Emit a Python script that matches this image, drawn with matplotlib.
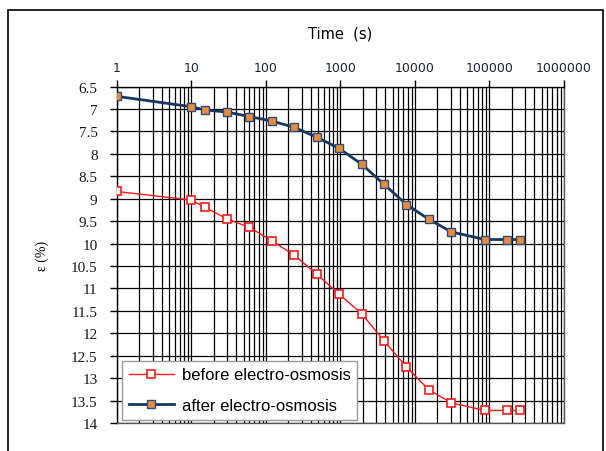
import numpy as np
from matplotlib import pyplot as plt
from matplotlib.patches import Rectangle
from matplotlib.ticker import LogLocator, NullFormatter, FixedLocator

# ---------- data ----------
times = [1, 10, 15, 30, 60, 120, 240, 480, 960, 1920, 3840, 7680,
         15360, 30720, 86400, 172800, 259200]
before = [8.84, 9.03, 9.19, 9.45, 9.64, 9.94, 10.26, 10.68, 11.13, 11.56,
          12.17, 12.75, 13.26, 13.55, 13.72, 13.72, 13.72]
after = [6.72, 6.95, 7.02, 7.07, 7.17, 7.27, 7.41, 7.63, 7.88, 8.23,
         8.68, 9.13, 9.46, 9.74, 9.91, 9.91, 9.91]
xticks = [1, 10, 100, 1000, 10000, 100000, 1000000]
xticklabels = ['1', '10', '100', '1000', '10000', '100000', '1000000']
yticks = np.arange(6.5, 14.01, 0.5)
yticklabels = ['%g' % v for v in yticks]

fig = plt.figure(figsize=(6.06, 4.52), dpi=100)
ax = fig.add_axes([0.193, 0.0619, 0.7377, 0.7445])

# outer frame
fig.patches.append(Rectangle((0.014, -0.05), 0.981, 1.0257, transform=fig.transFigure,
                             fill=False, edgecolor='black', linewidth=1.2, clip_on=False))

ax.set_xscale('log')
ax.set_xlim(1, 1000000)
ax.set_ylim(14, 6.5)

ax.plot(times, before, color='#ff1a1a', linewidth=1.0, marker='s', markersize=6,
        markerfacecolor='white', markeredgecolor='#ff1a1a', markeredgewidth=1.2,
        label='before electro-osmosis', zorder=4)
ax.plot(times, after, color='#17375e', linewidth=2.0, marker='s', markersize=6,
        markerfacecolor='#ed8a3c', markeredgecolor='#2c4d7f', markeredgewidth=1.0,
        label='after electro-osmosis', zorder=5)

# x axis on top
ax.xaxis.tick_top()
ax.xaxis.set_label_position('top')
ax.xaxis.set_major_locator(FixedLocator(xticks))
ax.set_xticklabels(xticklabels, fontsize=9, color='#1e2233', family='DejaVu Sans')
ax.xaxis.set_minor_locator(LogLocator(base=10, subs=np.arange(2, 10)))
ax.xaxis.set_minor_formatter(NullFormatter())
ax.tick_params(axis='x', which='major', direction='out', length=5, width=1, pad=4)
ax.tick_params(axis='x', which='minor', length=0)
ax.set_xlabel('Time  (s)', fontsize=10.5, family='DejaVu Sans', labelpad=17)

ax.set_yticks(yticks)
ax.set_yticklabels(yticklabels, fontsize=11, family='Liberation Serif', color='#1a1a1a')
ax.tick_params(axis='y', direction='out', length=5, width=1, pad=9)
ax.set_ylabel('ε (%)', fontsize=10, family='Liberation Serif', labelpad=16)

ax.grid(True, which='major', axis='both', color='black', linewidth=0.9)
ax.grid(True, which='minor', axis='x', color='black', linewidth=0.9)
ax.set_axisbelow(True)
for s in ax.spines.values():
    s.set_color('black')
    s.set_linewidth(1.0)
ax.spines['bottom'].set_color('#555555')
ax.spines['right'].set_color('#555555')

leg = ax.legend(loc='lower left', bbox_to_anchor=(0.011, 0.009), borderaxespad=0,
                frameon=True, fancybox=False, framealpha=1,
                edgecolor='#999999', handlelength=2.7, handletextpad=0.5,
                labelspacing=0.95, prop={'family': 'Liberation Sans', 'size': 12})
leg.get_frame().set_linewidth(1.0)
leg.set_zorder(10)

fig.savefig('out.png', dpi=100)
